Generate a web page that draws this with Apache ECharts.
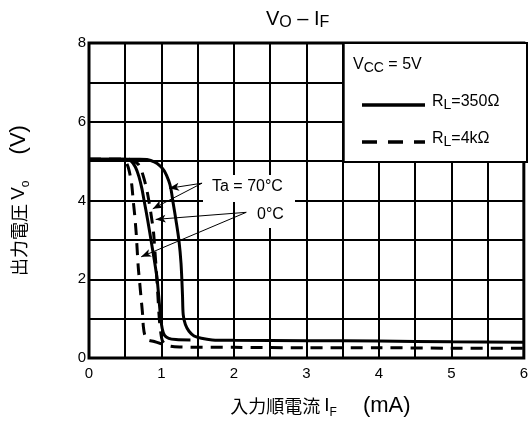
<!DOCTYPE html>
<html>
<head>
<meta charset="utf-8">
<script src="https://cdn.jsdelivr.net/npm/echarts@6/dist/echarts.min.js"></script>
<style>
html,body{margin:0;padding:0;background:#fff;}
#main{width:531px;height:424px;}
</style>
</head>
<body>
<div id="main"></div>
<script>
// 軸の目盛
var xTickLabels = ['0', '1', '2', '3', '4', '5', '6'];
var yTickLabels = ['0', '2', '4', '6', '8'];

// RL=350Ω (実線)
var solid70 = [[0,5.05],[0.7,5.05],[0.8,5.04],[0.9,4.98],[0.98,4.88],[1.04,4.75],[1.1,4.5],[1.13,4.3],[1.16,3.95],[1.2,3.5],[1.24,3.0],[1.27,2.4],[1.29,1.6],[1.3,1.1],[1.33,0.85],[1.38,0.68],[1.45,0.56],[1.55,0.5],[1.7,0.46],[2,0.45],[3,0.44],[4,0.43],[5,0.41],[6,0.4]];
var solid0 = [[0,5.05],[0.5,5.05],[0.58,5.0],[0.64,4.85],[0.69,4.6],[0.73,4.3],[0.76,4.0],[0.81,3.5],[0.855,3.0],[0.9,2.5],[0.94,2.0],[0.97,1.4],[0.99,1.0],[1.01,0.75],[1.04,0.58],[1.1,0.5],[1.2,0.47],[1.4,0.46]];
// RL=4kΩ (破線)
var dash70 = [[0,5.05],[0.55,5.05],[0.62,5.0],[0.68,4.92],[0.72,4.78],[0.76,4.55],[0.8,4.25],[0.83,3.95],[0.86,3.6],[0.89,3.2],[0.91,2.7],[0.93,2.2],[0.95,1.6],[0.97,1.0],[0.99,0.65],[1.01,0.45],[1.05,0.35],[1.12,0.3],[1.25,0.28],[2,0.27],[3,0.26],[4,0.26],[5,0.25],[6,0.25]];
var dash0 = [[0,5.05],[0.44,5.05],[0.5,5.0],[0.54,4.85],[0.57,4.62],[0.59,4.4],[0.61,4.0],[0.63,3.64],[0.65,3.2],[0.66,2.9],[0.68,2.3],[0.7,1.9],[0.72,1.5],[0.74,1.1],[0.75,0.8],[0.77,0.58],[0.81,0.46],[0.9,0.42],[1.0,0.36]];

// 矢印 (Ta = 70°C, 0°C)
var arrowsTa = [[[1.56,4.44],[1.105,4.31]],[[1.56,4.44],[0.88,3.79]]];
var arrows0 = [[[2.17,3.70],[0.92,3.52]],[[2.17,3.70],[0.72,2.57]]];

var FONT = "'Liberation Sans','Noto Sans CJK JP',sans-serif";
var JP = "'Noto Sans CJK JP','Liberation Sans',sans-serif";

function curve(data, dashed) {
    return {
        type: 'line',
        data: data,
        showSymbol: false,
        smooth: 0.3,
        silent: true,
        z: 3,
        lineStyle: {color: '#000', width: 3, type: dashed ? [12, 8] : 'solid'}
    };
}

function arrowLines(list) {
    var out = [];
    for (var i = 0; i < list.length; i++) {
        out.push([{coord: list[i][0]}, {coord: list[i][1]}]);
    }
    return out;
}

var subRich = {
    m: {fontSize: 16, fontFamily: FONT, color: '#000', lineHeight: 20, verticalAlign: 'middle'},
    s: {fontSize: 14, fontFamily: FONT, color: '#000', lineHeight: 14, verticalAlign: 'bottom'}
};
var nameRich = {
    j: {fontSize: 18, fontFamily: JP, color: '#000', lineHeight: 26, verticalAlign: 'middle'},
    i: {fontSize: 19, fontFamily: FONT, color: '#000', lineHeight: 26, verticalAlign: 'middle'},
    p: {fontSize: 22, fontFamily: FONT, color: '#000', lineHeight: 26, verticalAlign: 'middle'},
    s: {fontSize: 12, fontFamily: FONT, color: '#000', lineHeight: 17, verticalAlign: 'bottom'}
};

var chart = echarts.init(document.getElementById('main'));
chart.setOption({
    animation: false,
    backgroundColor: '#fff',
    title: {
        text: '{m|V}{s|O}{m| – I}{s|F}',
        left: 266, top: 7, padding: 0,
        textStyle: {
            fontWeight: 'normal',
            rich: {
                m: {fontSize: 20, fontFamily: FONT, fontWeight: 'normal', color: '#000', lineHeight: 24, verticalAlign: 'middle'},
                s: {fontSize: 16, fontFamily: FONT, fontWeight: 'normal', color: '#000', lineHeight: 18, verticalAlign: 'bottom'}
            }
        }
    },
    grid: {left: 87, right: 4, top: 43, bottom: 64, show: true, borderColor: '#000', borderWidth: 3, backgroundColor: 'transparent'},
    xAxis: {
        type: 'value', min: 0, max: 6, interval: 0.5,
        axisLine: {show: false},
        axisTick: {show: false},
        splitLine: {show: true, lineStyle: {color: '#000', width: 2}},
        axisLabel: {
            margin: 8, color: '#000', fontSize: 15, fontFamily: FONT,
            formatter: function (v) { return v % 1 === 0 ? xTickLabels[v] : ''; }
        },
        name: '{j|入力順電流 }{i|I}{s|F}{j|　  }{p|(mA)}',
        nameLocation: 'middle', nameGap: 35,
        nameTextStyle: {padding: [0, 0, 0, 28], rich: nameRich}
    },
    yAxis: {
        type: 'value', min: 0, max: 8, interval: 1,
        axisLine: {show: false},
        axisTick: {show: false},
        splitLine: {show: true, lineStyle: {color: '#000', width: 2}},
        axisLabel: {
            margin: 3, color: '#000', fontSize: 15, fontFamily: FONT,
            formatter: function (v) { return v % 2 === 0 ? yTickLabels[v / 2] : ''; }
        },
        name: '{j|出力電圧 }{i|V}{s|o}{j|　  }{p|(V)}',
        nameLocation: 'middle', nameGap: 57, nameRotate: 90,
        nameTextStyle: {padding: [0, 0, 0, 0], rich: nameRich}
    },
    series: [
        curve(solid70, false),
        curve(solid0, false),
        curve(dash70, true),
        curve(dash0, true),
        {
            type: 'line', data: [], silent: true,
            markLine: {
                silent: true, animation: false,
                symbol: ['none', 'arrow'], symbolSize: [6, 10],
                label: {show: false},
                lineStyle: {color: '#000', width: 1, type: 'solid'},
                data: arrowLines(arrowsTa).concat(arrowLines(arrows0))
            }
        }
    ],
    graphic: [
        // 凡例の枠
        {type: 'rect', z: 10, shape: {x: 343.7, y: 43, width: 183.3, height: 119}, style: {fill: '#fff', stroke: '#000', lineWidth: 2}},
        {type: 'text', z: 11, left: 353, top: 57, style: {text: '{m|V}{s|CC}{m| = 5V}', rich: subRich}},
        {type: 'line', z: 11, shape: {x1: 362, y1: 105, x2: 425, y2: 105}, style: {stroke: '#000', lineWidth: 3.5}},
        {type: 'text', z: 11, left: 432, top: 94, style: {text: '{m|R}{s|L}{m|=350Ω}', rich: subRich}},
        {type: 'line', z: 11, shape: {x1: 362, y1: 142, x2: 425, y2: 142}, style: {stroke: '#000', lineWidth: 3.5, lineDash: [15, 11]}},
        {type: 'text', z: 11, left: 432, top: 131, style: {text: '{m|R}{s|L}{m|=4kΩ}', rich: subRich}},
        // 注記
        {type: 'rect', z: 10, shape: {x: 203, y: 175, width: 92, height: 27}, style: {fill: '#fff'}},
        {type: 'rect', z: 10, shape: {x: 252, y: 202, width: 43, height: 26}, style: {fill: '#fff'}},
        {type: 'text', z: 11, left: 212, top: 179, style: {text: 'Ta = 70°C', fill: '#000', font: '16px ' + FONT}},
        {type: 'text', z: 11, left: 257, top: 207, style: {text: '0°C', fill: '#000', font: '16px ' + FONT}}
    ]
});
</script>
</body>
</html>
